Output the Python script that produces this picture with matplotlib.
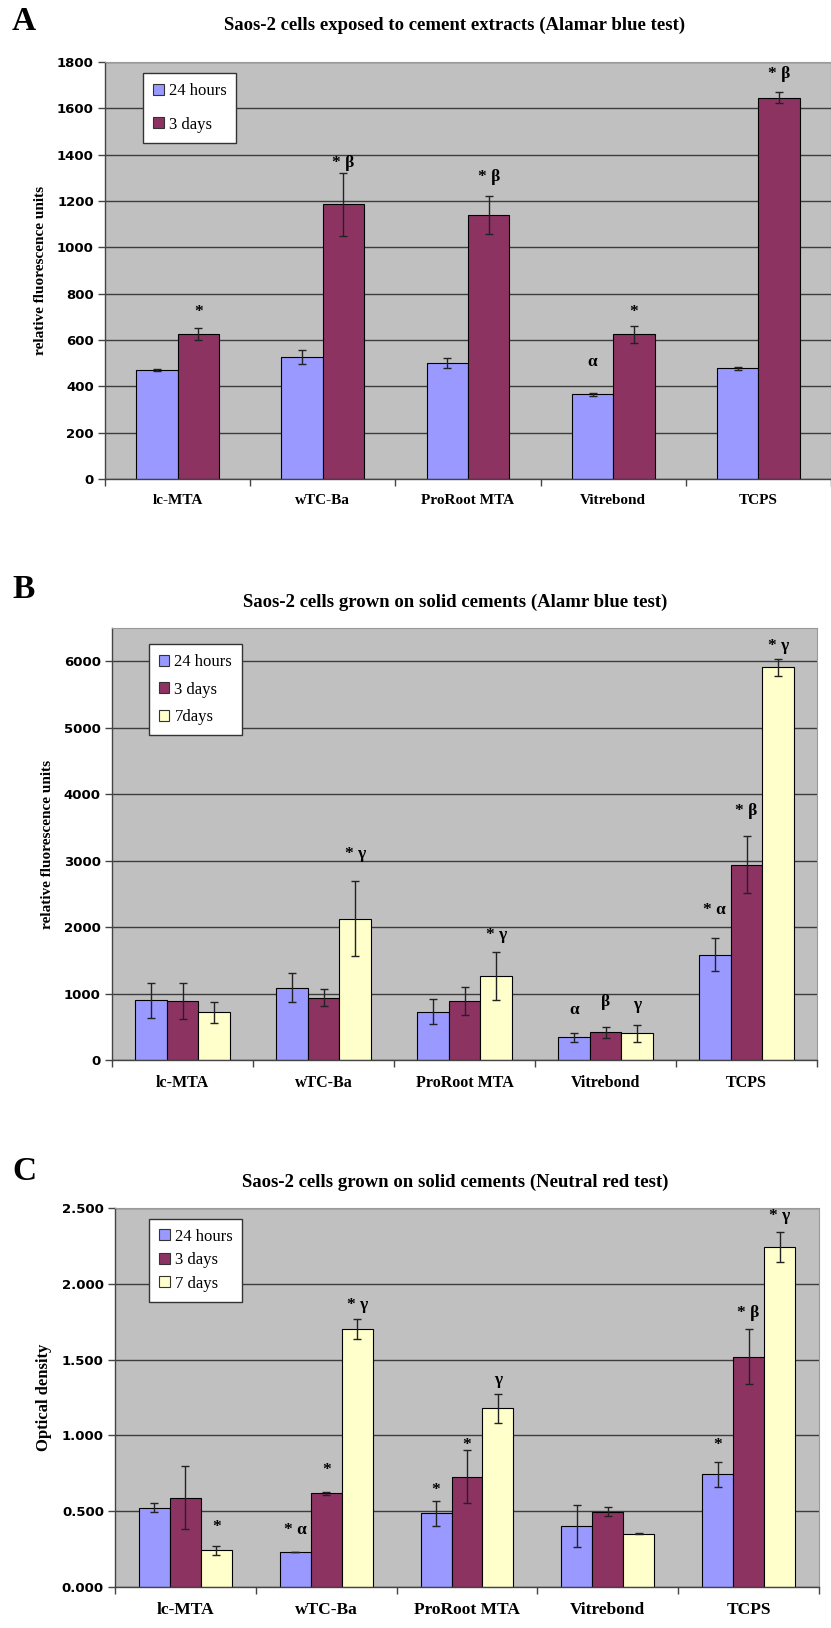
import numpy as np
import matplotlib
matplotlib.use("Agg")
import matplotlib.pyplot as plt
from matplotlib.patches import Patch

CATS = ["lc-MTA", "wTC-Ba", "ProRoot MTA", "Vitrebond", "TCPS"]
COL_24H, COL_3D, COL_7D = "#9999FF", "#8C3362", "#FFFFCC"
SERIF = "Liberation Serif"

# ---- A: extracts, alamar blue ----
A_24h = [470, 527, 502, 366, 477]
A_24h_err = [5, 30, 22, 7, 6]
A_3d = [624, 1185, 1139, 624, 1646]
A_3d_err = [26, 136, 83, 35, 24]
A_notes = [(0, 1, "*", 720), (1, 1, "* β", 1363), (2, 1, "* β", 1303),
           (3, 0, "α", 505), (3, 1, "*", 720), (4, 1, "* β", 1750)]

# ---- B: solid cements, alamar blue ----
B_24h = [900, 1086, 725, 341, 1587]
B_24h_err = [265, 218, 190, 68, 250]
B_3d = [886, 935, 886, 416, 2938]
B_3d_err = [270, 128, 210, 83, 425]
B_7d = [716, 2127, 1261, 400, 5906]
B_7d_err = [155, 563, 363, 125, 125]
B_notes = [(1, 2, "* γ", 3100), (2, 2, "* γ", 1877), (3, 0, "α", 750),
           (3, 1, "β", 880), (3, 2, "γ", 826), (4, 0, "* α", 2250),
           (4, 1, "* β", 3754), (4, 2, "* γ", 6230)]

# ---- C: solid cements, neutral red ----
C_24h = [0.524, 0.231, 0.485, 0.401, 0.744]
C_24h_err = [0.028, 0.003, 0.085, 0.14, 0.083]
C_3d = [0.590, 0.617, 0.727, 0.496, 1.519]
C_3d_err = [0.21, 0.01, 0.176, 0.03, 0.18]
C_7d = [0.242, 1.702, 1.178, 0.352, 2.242]
C_7d_err = [0.03, 0.066, 0.096, 0.005, 0.1]
C_notes = [(0, 2, "*", 0.396), (1, 0, "* α", 0.374), (1, 1, "*", 0.771),
           (1, 2, "* γ", 1.861), (2, 0, "*", 0.639), (2, 1, "*", 0.936),
           (2, 2, "γ", 1.365), (4, 0, "*", 0.936), (4, 1, "* β", 1.807),
           (4, 2, "* γ", 2.444)]

W, H = 831, 1628
fig = plt.figure(figsize=(W / 100, H / 100), dpi=100)
fig.patch.set_facecolor("white")


def box(l, r, t, b):
    return [l / W, 1 - b / H, (r - l) / W, (b - t) / H]


def panel(rect, series, errs, colors, labels, width, ylim, yticks, fmt,
          ylabel, ylsize, xlim, notes, leg_anchor, labelspacing, xlsize):
    ax = fig.add_axes(rect)
    ax.set_facecolor("#C0C0C0")
    x = np.arange(len(CATS))
    n = len(series)
    offs = (np.arange(n) - (n - 1) / 2) * width
    for vals, err, col, lab, o in zip(series, errs, colors, labels, offs):
        ax.bar(x + o, vals, width, color=col, edgecolor="black", lw=0.8,
               label=lab, zorder=2)
        ax.errorbar(x + o, vals, yerr=err, fmt="none", ecolor="#222222",
                    elinewidth=1, capsize=3, capthick=1, zorder=3)
    for ci, si, txt, yv in notes:
        ax.text(ci + offs[si], yv, txt, ha="center", va="center",
                family=SERIF, fontweight="bold", fontsize=12.5, zorder=4)
    ax.set_ylim(*ylim)
    ax.set_xlim(*xlim)
    ax.set_yticks(yticks)
    ax.set_yticklabels([fmt.format(v) for v in yticks], fontsize=9.5,
                       fontweight="bold", family="DejaVu Sans")
    ax.yaxis.grid(True, color="#3c3c3c", lw=1.0, zorder=1)
    ax.set_axisbelow(True)
    ax.set_xticks(np.arange(-0.5, len(CATS), 1.0))
    ax.set_xticklabels([])
    ax.set_xticks(x, minor=True)
    ax.set_xticklabels(CATS, minor=True, family=SERIF, fontweight="bold",
                       fontsize=xlsize)
    ax.tick_params(axis="x", which="minor", length=0, pad=11)
    ax.tick_params(axis="x", which="major", length=5, width=1, color="#444444")
    ax.tick_params(axis="y", length=5, width=1, color="#444444", pad=3)
    for s in ("left", "bottom"):
        ax.spines[s].set_color("#444444")
        ax.spines[s].set_linewidth(1.0)
    for s in ("top", "right"):
        ax.spines[s].set_color("#9a9a9a")
    ax.set_ylabel(ylabel, family=SERIF, fontweight="bold", fontsize=ylsize,
                  labelpad=7)
    handles = [Patch(facecolor=c, edgecolor="#333333", lw=0.8, label=l)
               for c, l in zip(colors, labels)]
    leg = ax.legend(handles=handles, loc="upper left", bbox_to_anchor=leg_anchor,
                    borderaxespad=0, frameon=True, fancybox=False,
                    framealpha=1, edgecolor="#333333", handlelength=0.65,
                    handleheight=0.65, handletextpad=0.3,
                    labelspacing=labelspacing, borderpad=0.6,
                    prop={"family": SERIF, "size": 12})
    leg.get_frame().set_linewidth(1.0)
    leg.set_zorder(5)
    return ax


# A
panel(box(105, 831, 62, 479), [A_24h, A_3d], [A_24h_err, A_3d_err],
      [COL_24H, COL_3D], ["24 hours", "3 days"], 0.285, (0, 1800),
      np.arange(0, 1801, 200), "{:d}", "relative fluorescence units", 11,
      (-0.5, 4.44), A_notes, (0.052, 0.973), 1.05, 11)

# B
panel(box(112, 817, 628, 1060), [B_24h, B_3d, B_7d],
      [B_24h_err, B_3d_err, B_7d_err], [COL_24H, COL_3D, COL_7D],
      ["24 hours", "3 days", "7days"], 0.225, (0, 6500),
      np.arange(0, 6001, 1000), "{:d}", "relative fluorescence units", 11,
      (-0.5, 4.5), B_notes, (0.052, 0.963), 0.7, 11.5)

# C
panel(box(115, 819, 1208, 1587), [C_24h, C_3d, C_7d],
      [C_24h_err, C_3d_err, C_7d_err], [COL_24H, COL_3D, COL_7D],
      ["24 hours", "3 days", "7 days"], 0.22, (0, 2.5),
      np.arange(0, 2.51, 0.5), "{:.3f}", "Optical density", 12,
      (-0.5, 4.5), C_notes, (0.048, 0.972), 0.45, 12.5)

titles = [("Saos-2 cells exposed to cement extracts (Alamar blue test)", 25),
          ("Saos-2 cells grown on solid cements (Alamr blue test)", 602),
          ("Saos-2 cells grown on solid cements (Neutral red test)", 1182)]
for t, y in titles:
    fig.text(455 / W, 1 - y / H, t, ha="center", va="center", family=SERIF,
             fontweight="bold", fontsize=13.5)
for letter, y in [("A", 22), ("B", 590), ("C", 1172)]:
    fig.text(24 / W, 1 - y / H, letter, ha="center", va="center",
             family=SERIF, fontweight="bold", fontsize=24)

fig.savefig("out.png", dpi=100)
